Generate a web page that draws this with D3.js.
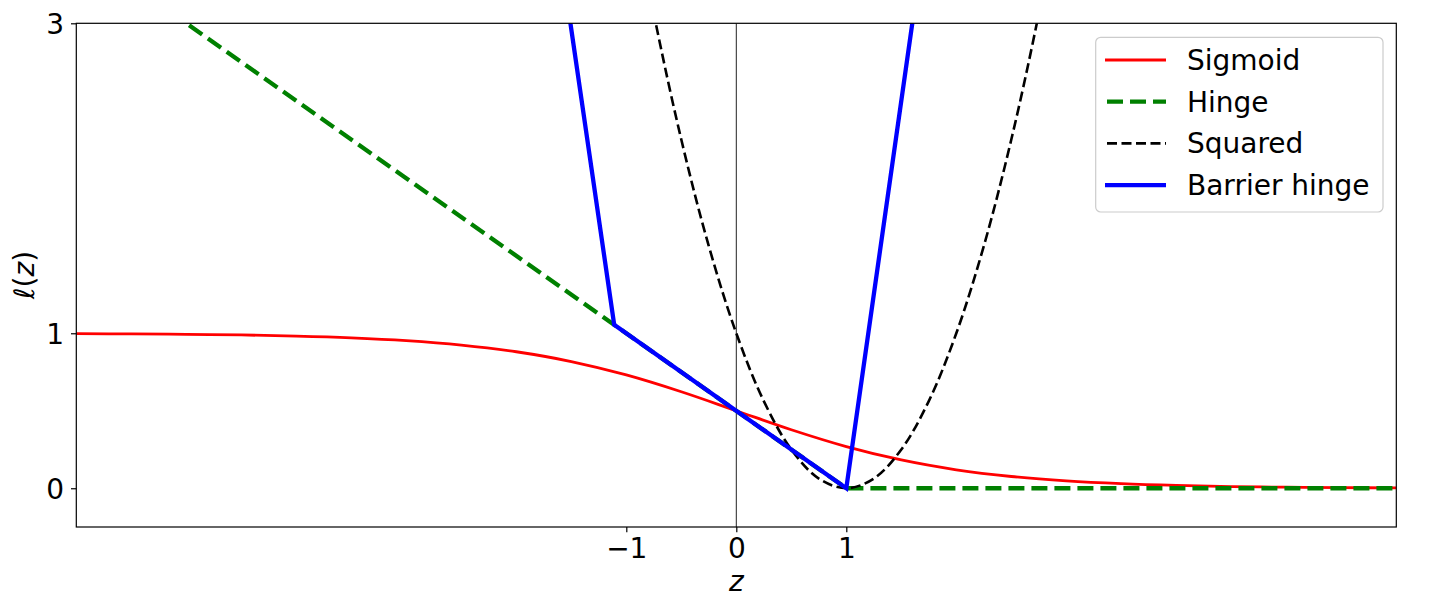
<!DOCTYPE html>
<html>
<head>
<meta charset="utf-8">
<script src="https://cdn.jsdelivr.net/npm/d3@7"></script>
<style>
  body { margin: 0; background: #fff; }
  svg text { font-family: "DejaVu Sans", sans-serif; }
</style>
</head>
<body>
<svg id="chart" width="1433" height="614"></svg>
<script>
// values
var xTicks = [-1, 0, 1];
var yTicks = [0, 1, 3];

var sigmoidZ = [-6, -5.5, -5, -4.5, -4, -3.5, -3, -2.5, -2, -1.5, -1, -0.5, 0,
                0.5, 1, 1.5, 2, 2.5, 3, 3.5, 4, 4.5, 5, 5.5, 6];
var sigmoidL = [0.9975, 0.9959, 0.9933, 0.989, 0.982, 0.9707, 0.9526, 0.9241, 0.8808, 0.8176, 0.7311, 0.6225, 0.5,
                0.3775, 0.2689, 0.1824, 0.1192, 0.0759, 0.0474, 0.0293, 0.018, 0.011, 0.0067, 0.0041, 0.0025];

var hingeZ = [-6, 1, 6];
var hingeL = [3.5, 0, 0];

var squaredZ = [-1, -0.75, -0.5, -0.25, 0, 0.25, 0.5, 0.75, 1, 1.25, 1.5, 1.75, 2, 2.25, 2.5, 2.75, 3];
var squaredL = [4, 3.0625, 2.25, 1.5625, 1, 0.5625, 0.25, 0.0625, 0, 0.0625, 0.25, 0.5625, 1, 1.5625, 2.25, 3.0625, 4];

var barrierZ = [-1.6, -1.11, 1, 1.7];
var barrierL = [3.45, 1.055, 0, 3.5];

var names = ["Sigmoid", "Hinge", "Squared", "Barrier hinge"];

var svg = d3.select("#chart"),
    margin = { top: 23.3, left: 76.3, bottom: 87, right: 36.7 },
    width = +svg.attr("width") - margin.left - margin.right,
    height = +svg.attr("height") - margin.top - margin.bottom;

var x = d3.scaleLinear().domain([-6, 6]).range([margin.left, margin.left + width]);
var y = d3.scaleLinear().domain([-0.25, 3]).range([margin.top + height, margin.top]);

svg.append("clipPath").attr("id", "clip")
    .append("rect")
    .attr("x", margin.left).attr("y", margin.top)
    .attr("width", width).attr("height", height);

var plot = svg.append("g").attr("clip-path", "url(#clip)");

// vertical line at z = 0
plot.append("line")
    .attr("x1", x(0)).attr("x2", x(0))
    .attr("y1", margin.top).attr("y2", margin.top + height)
    .attr("stroke", "#222").attr("stroke-width", 1);

function pts(zs, ls) { return zs.map((z, i) => [z, ls[i]]); }

var series = [
    { name: names[0], data: pts(sigmoidZ, sigmoidL), color: "#ff0000", w: 2.8, dash: null, curve: d3.curveCatmullRom },
    { name: names[1], data: pts(hingeZ, hingeL), color: "#008000", w: 4.3, dash: "16,7", curve: d3.curveLinear },
    { name: names[2], data: pts(squaredZ, squaredL), color: "#000000", w: 2.6, dash: "10,4.5", curve: d3.curveCatmullRom },
    { name: names[3], data: pts(barrierZ, barrierL), color: "#0000ff", w: 4.3, dash: null, curve: d3.curveLinear }
];

series.forEach(function (s) {
    var line = d3.line().x(d => x(d[0])).y(d => y(d[1])).curve(s.curve);
    plot.append("path")
        .datum(s.data)
        .attr("d", line)
        .attr("fill", "none")
        .attr("stroke", s.color)
        .attr("stroke-width", s.w)
        .attr("stroke-dasharray", s.dash);
});

// axes
var xAxis = svg.append("g")
    .attr("transform", `translate(0,${margin.top + height})`)
    .call(d3.axisBottom(x).tickValues(xTicks).tickSize(5.3).tickPadding(6).tickFormat(d3.format("d")));
var yAxis = svg.append("g")
    .attr("transform", `translate(${margin.left},0)`)
    .call(d3.axisLeft(y).tickValues(yTicks).tickSize(5.3).tickPadding(7).tickFormat(d3.format("d")));

[xAxis, yAxis].forEach(function (a) {
    a.select(".domain").remove();
    a.selectAll(".tick line").attr("stroke", "#000").attr("stroke-width", 1.2);
    a.selectAll(".tick text").attr("fill", "#000").style("font-size", "28px");
});
yAxis.selectAll(".tick text").attr("dy", "0.36em");

// frame
svg.append("rect")
    .attr("x", margin.left).attr("y", margin.top)
    .attr("width", width).attr("height", height)
    .attr("fill", "none").attr("stroke", "#000").attr("stroke-width", 1.2);

// axis labels
svg.append("text")
    .attr("x", x(0)).attr("y", 591)
    .attr("text-anchor", "middle")
    .style("font-size", "28px").style("font-style", "italic")
    .text("z");

var yl = svg.append("text")
    .attr("transform", "translate(34,275) rotate(-90)")
    .attr("text-anchor", "middle")
    .style("font-size", "28px");
yl.append("tspan").style("font-style", "italic").text("ℓ");
yl.append("tspan").text("(");
yl.append("tspan").style("font-style", "italic").text("z");
yl.append("tspan").text(")");

// legend
var legend = svg.append("g");
legend.append("rect")
    .attr("x", 1095.7).attr("y", 37.3)
    .attr("width", 287.3).attr("height", 174.7)
    .attr("rx", 5).attr("ry", 5)
    .attr("fill", "#fff").attr("fill-opacity", 0.8)
    .attr("stroke", "#cccccc").attr("stroke-width", 1.2);

var rows = legend.selectAll("g.row")
    .data(series)
    .enter().append("g")
    .attr("class", "row")
    .attr("transform", (d, i) => `translate(0,${60 + i * 41.7})`);

rows.append("line")
    .attr("x1", d => d.dash ? 1107 : 1105).attr("x2", 1166)
    .attr("y1", 0).attr("y2", 0)
    .attr("stroke", d => d.color)
    .attr("stroke-width", d => d.w)
    .attr("stroke-dasharray", d => d.dash);

rows.append("text")
    .attr("x", 1187).attr("y", 0).attr("dy", "0.36em")
    .style("font-size", "28px")
    .text(d => d.name);
</script>
</body>
</html>
